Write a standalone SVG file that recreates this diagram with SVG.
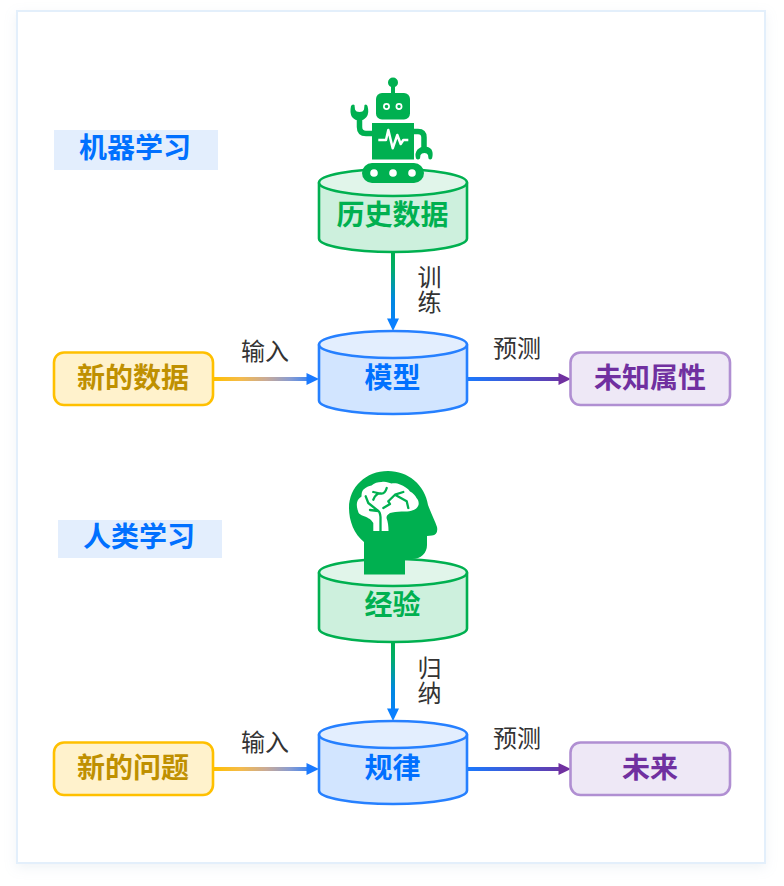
<svg xmlns="http://www.w3.org/2000/svg" width="784" height="886" viewBox="0 0 784 886">
<style>
text{font-family:"Noto Sans CJK SC","Noto Sans",sans-serif;text-anchor:middle}
.t{font-size:28px;font-weight:700}
.l{font-size:24px;fill:#333}
.v{writing-mode:vertical-rl;text-anchor:start;letter-spacing:1px}
.g{fill:#00b050}
.gs{stroke:#00b050;fill:none}
.ggreen{stroke:#00b050;stroke-width:2.6}
.gb{fill:#cdf0dd}.gt{fill:#e1f5ea}
.bb{fill:#d2e5ff}.bt{fill:#e3eefe}
.bblue{stroke:#2680ff;stroke-width:2.6}
.w{fill:#fff}
.c{stroke-width:4;fill:none}
.n{stroke-width:2.6}
.y{fill:#fff2cc;stroke:#ffc000}
.p{fill:#eee8f6;stroke:#b08fd2}
</style>
<defs>
<filter id="sh" x="-5%" y="-5%" width="110%" height="110%"><feDropShadow dx="0" dy="4" stdDeviation="6" flood-color="#9db4cc" flood-opacity="0.16"/></filter>
<linearGradient id="a1" gradientUnits="userSpaceOnUse" x1="393" y1="252" x2="393" y2="331"><stop offset="0" stop-color="#00b050"/><stop offset="0.2" stop-color="#00ad68"/><stop offset="0.6" stop-color="#0088e0"/><stop offset="1" stop-color="#0a80ff"/></linearGradient>
<linearGradient id="a2" gradientUnits="userSpaceOnUse" x1="393" y1="642" x2="393" y2="721"><stop offset="0" stop-color="#00b050"/><stop offset="0.2" stop-color="#00ad68"/><stop offset="0.6" stop-color="#0088e0"/><stop offset="1" stop-color="#0a80ff"/></linearGradient>
<linearGradient id="y1" gradientUnits="userSpaceOnUse" x1="214" y1="0" x2="319" y2="0"><stop offset="0" stop-color="#ffc000"/><stop offset="0.25" stop-color="#f5bb4a"/><stop offset="0.5" stop-color="#c8aa98"/><stop offset="0.72" stop-color="#8a9cd0"/><stop offset="1" stop-color="#1a7aff"/></linearGradient>
<linearGradient id="p1" gradientUnits="userSpaceOnUse" x1="467" y1="0" x2="571" y2="0"><stop offset="0" stop-color="#1a7aff"/><stop offset="1" stop-color="#7030a0"/></linearGradient>
</defs>
<rect width="784" height="886" fill="#fff"/>
<rect id="frame" x="17" y="11" width="748" height="852" fill="#fff" stroke="#e3effb" stroke-width="2" filter="url(#sh)"/>

<g id="connectors">
<path class="c" stroke="url(#a1)" d="M393 252V322"/><path d="M387 318.500L393 331L399 318.500Z" fill="#0a80ff"/>
<path class="c" stroke="url(#y1)" d="M214 379H308"/><path d="M306.500 373L319 379L306.500 385Z" fill="#1a7aff"/>
<path class="c" stroke="url(#p1)" d="M467 379H561"/><path d="M558.500 373L571 379L558.500 385Z" fill="#7030a0"/>
<path class="c" stroke="url(#a2)" d="M393 642V712"/><path d="M387 708.500L393 721L399 708.500Z" fill="#0a80ff"/>
<path class="c" stroke="url(#y1)" d="M214 769H308"/><path d="M306.500 763L319 769L306.500 775Z" fill="#1a7aff"/>
<path class="c" stroke="url(#p1)" d="M467 769H561"/><path d="M558.500 763L571 769L558.500 775Z" fill="#7030a0"/>
</g>

<g id="label-ml"><rect x="54" y="130" width="164" height="40" fill="#e3eefd"/><text x="135" y="158" class="t" fill="#0070ff">机器学习</text></g>
<g id="label-hl"><rect x="58" y="520" width="164" height="38" fill="#e3eefd"/><text x="139" y="547" class="t" fill="#0070ff">人类学习</text></g>

<g id="db-history">
<path class="gb" d="M319 182.500V238.500C319 246 352 252 393 252C434 252 467 246 467 238.500V182.500Z"/>
<path class="ggreen" fill="none" d="M319 182.500V238.500C319 246 352 252 393 252C434 252 467 246 467 238.500V182.500"/>
<ellipse class="gt ggreen" cx="393" cy="182.500" rx="74" ry="13.500"/>
<text x="392.500" y="225" class="t" fill="#00b050">历史数据</text>
</g>
<g id="robot">
<circle class="g" cx="393" cy="82.500" r="5"/>
<rect class="g" x="391" y="85" width="4" height="9"/>
<rect class="g" x="376" y="93" width="34" height="26.500" rx="6"/>
<circle cx="386.500" cy="106.500" r="2.600" fill="#00b050" stroke="#fff" stroke-width="1.700"/>
<circle cx="399" cy="106.500" r="2.600" fill="#00b050" stroke="#fff" stroke-width="1.700"/>
<rect class="g" x="372" y="123" width="42" height="36.500"/>
<path fill="none" stroke="#fff" stroke-width="2.500" stroke-linejoin="round" d="M378.300 140H386L388.300 130L392.700 148.300L397.300 135L400.700 144L403.300 140H408.300"/>
<path class="gs" stroke-width="5.500" d="M359.500 116V127Q359.500 133.500 366 133.500H373"/>
<path class="g" d="M351 106Q352.500 103.500 354.500 105L355 109.500Q356 112 359.500 112Q363 112 364 109.500L364.500 105Q366.500 103.500 367.500 106Q369.500 113 366.500 117Q363.500 120.500 359.500 120.500Q355 120.500 352 117Q349.500 113 351 106Z"/>
<path class="gs" stroke-width="5.500" d="M413 131.500H418Q424 131.500 424 137.500V150"/>
<path class="g" d="M416 158.500Q414.500 153 417.500 149.500Q420.500 146.500 424.500 146.500Q429 146.500 431.500 149.500Q433.500 153.500 432 158.500Q430 160.500 428.500 158.500L428 155Q427 153 424.500 153Q421.500 153 420.500 155L420 158.500Q418 160.500 416 158.500Z"/>
<rect class="g" x="362" y="163" width="62" height="20" rx="10"/>
<circle class="w" cx="374" cy="173" r="3.800"/><circle class="w" cx="393" cy="173" r="3.800"/><circle class="w" cx="412" cy="173" r="3.800"/>
</g>

<g id="db-model">
<path class="bb" d="M319 344.500V400.500C319 408 352 414 393 414C434 414 467 408 467 400.500V344.500Z"/>
<path class="bblue" fill="none" d="M319 344.500V400.500C319 408 352 414 393 414C434 414 467 408 467 400.500V344.500"/>
<ellipse class="bt bblue" cx="393" cy="344.500" rx="74" ry="13.500"/>
<text x="392.500" y="388" class="t" fill="#0070ff">模型</text>
</g>

<g id="in-1"><rect class="y n" x="54" y="352.500" width="159" height="52.500" rx="10"/><text x="133" y="388" class="t" fill="#bf9000">新的数据</text></g>
<g id="out-1"><rect class="p n" x="570.500" y="352.500" width="159.500" height="52.500" rx="10"/><text x="650" y="388" class="t" fill="#7030a0">未知属性</text></g>

<g id="db-exp">
<path class="gb" d="M319 572.500V628.500C319 636 352 642 393 642C434 642 467 636 467 628.500V572.500Z"/>
<path class="ggreen" fill="none" d="M319 572.500V628.500C319 636 352 642 393 642C434 642 467 636 467 628.500V572.500"/>
<ellipse class="gt ggreen" cx="393" cy="572.500" rx="74" ry="13.500"/>
<text x="392.500" y="615" class="t" fill="#00b050">经验</text>
</g>
<g id="head">
<path class="g" d="M364 574.500V542C354 534 349 521 349 508C349 487 366 471 388 471C408 471 425 485 428 505C431 513 435 521 437 527C438 532 436 535 432 535.500L427 536V545C427 553 421 559 412 559H405V574.500Z"/>
<path class="w" d="M373.300 531V523C371 519 368 518 365 516.500C361 515 358.500 514 358 511C356.500 507 356.500 503 357.500 501C358 499 360 498 361.500 496.500C361.500 493 362 491 363.500 489.500C366 487 369 486 371.500 485.500C374 483 378 482 381.500 482C385 481 389 482.500 391.500 483.500C394.500 483 398 483.500 400 484.500C404 486 408 488.500 410 491.500C413 493 415.500 495.500 416.500 498C418.500 500 419 503 418.500 505C417.500 508 415 509.500 413.500 510C409 512 405.500 511.500 401.500 511.500C397 512 393 512 390 513C387.500 514.500 386.500 516 386.500 518C388 522 388.500 526 388.500 531Z"/>
<path fill="none" stroke="#00b050" stroke-width="2.300" stroke-linecap="round" stroke-linejoin="round" d="M380.500 531V517Q380 512 378.300 511L368.300 503L365.700 496.300M373.300 499.700Q376 493 381 493.500Q385 494 386.700 488M373.300 492L380 493.500M388.300 501.300L395 494.700L403.300 492M395 494.700L406.700 501.300L408.300 508M388.300 501.300L390 504L383.300 508M378.300 511L370 510"/>
</g>

<g id="db-rule">
<path class="bb" d="M319 734.500V790.500C319 798 352 804 393 804C434 804 467 798 467 790.500V734.500Z"/>
<path class="bblue" fill="none" d="M319 734.500V790.500C319 798 352 804 393 804C434 804 467 798 467 790.500V734.500"/>
<ellipse class="bt bblue" cx="393" cy="734.500" rx="74" ry="13.500"/>
<text x="392.500" y="778" class="t" fill="#0070ff">规律</text>
</g>
<g id="in-2"><rect class="y n" x="54" y="742.500" width="159" height="52.500" rx="10"/><text x="133" y="778" class="t" fill="#bf9000">新的问题</text></g>
<g id="out-2"><rect class="p n" x="570.500" y="742.500" width="159.500" height="52.500" rx="10"/><text x="650" y="778" class="t" fill="#7030a0">未来</text></g>

<g id="edge-labels">
<text class="l v" x="429.500" y="265">训练</text>
<text class="l v" x="429.500" y="656">归纳</text>
<text x="265" y="360" class="l">输入</text><text x="517" y="357" class="l">预测</text>
<text x="265" y="751" class="l">输入</text><text x="517" y="747" class="l">预测</text>
</g>
</svg>
